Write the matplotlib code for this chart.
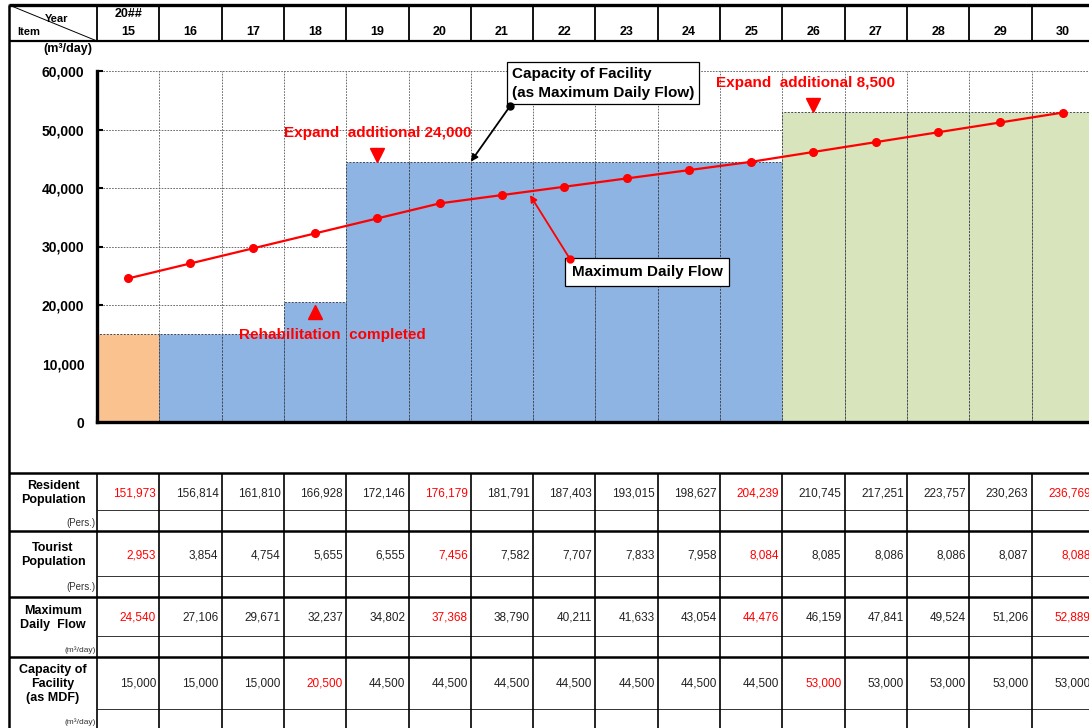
# Water demand forecast vs. treatment capacity, with yearly data table
import numpy as np
import matplotlib
matplotlib.use('Agg')
import matplotlib.pyplot as plt

plt.rcParams['font.family'] = ['Liberation Sans', 'DejaVu Sans']

# data
years = ['15', '16', '17', '18', '19', '20', '21', '22',
         '23', '24', '25', '26', '27', '28', '29', '30']
resident = [151973, 156814, 161810, 166928, 172146, 176179, 181791, 187403,
            193015, 198627, 204239, 210745, 217251, 223757, 230263, 236769]
tourist = [2953, 3854, 4754, 5655, 6555, 7456, 7582, 7707,
           7833, 7958, 8084, 8085, 8086, 8086, 8087, 8088]
max_flow = [24540, 27106, 29671, 32237, 34802, 37368, 38790, 40211,
            41633, 43054, 44476, 46159, 47841, 49524, 51206, 52889]
capacity = [15000, 15000, 15000, 20500, 44500, 44500, 44500, 44500,
            44500, 44500, 44500, 53000, 53000, 53000, 53000, 53000]
phase = ['existing'] + ['stage1'] * 10 + ['stage2'] * 5
milestones = [0, 5, 10, 15]        # highlighted columns in the demand rows
cap_changes = [3, 11]              # highlighted columns in the capacity row

phase_colors = {'existing': '#F9C28F', 'stage1': '#8DB4E2', 'stage2': '#D7E4BC'}

# layout (pixels)
W, H = 1089, 728
X0, CW = 97, 62.3          # first year column left edge, column width
Y_TOP, Y_ZERO = 71, 422    # plot top / baseline
XL = (9 - X0) / CW         # outer left border in column units
n = len(years)
idx = np.arange(n)

fig = plt.figure(figsize=(W / 100, H / 100), dpi=100)

# full-figure axes for the table grid: x in columns, y in pixels
tab = fig.add_axes([0, 0, 1, 1])
tab.set_xlim(-X0 / CW, (W - X0) / CW)
tab.set_ylim(H, 0)
tab.axis('off')

# chart axes sharing the same column scale
ax = fig.add_axes([X0 / W, (H - Y_ZERO) / H, n * CW / W, (Y_ZERO - Y_TOP) / H])
ax.set_xlim(0, n)
ax.set_ylim(0, 60000)
ax.patch.set_alpha(0)

# --- header row ---
tab.hlines(5, XL, n, color='black', lw=2.4)
tab.hlines(41, XL, n, color='black', lw=1.6)
tab.vlines(XL, 5, H, color='black', lw=1.8)
tab.vlines(np.arange(n + 1), 5, 41, color='black', lw=1.3)
tab.plot([XL, 0], [5, 41], color='black', lw=0.7)
tab.text((57 - X0) / CW, 19, 'Year', fontsize=8, fontweight='bold', ha='center', va='center')
tab.text((29 - X0) / CW, 32, 'Item', fontsize=8, fontweight='bold', ha='center', va='center')
tab.text(0.5, 14, '20##', fontsize=9, fontweight='bold', ha='center', va='center')
for i, yr in enumerate(years):
    tab.text(i + 0.5, 32, yr, fontsize=9, fontweight='bold', ha='center', va='center')
tab.text((68 - X0) / CW, 49, '(m³/day)', fontsize=9, fontweight='bold', ha='center', va='center')

# --- chart ---
ax.bar(idx, capacity, width=1, align='edge',
       color=[phase_colors[p] for p in phase],
       edgecolor='#404858', linewidth=0.7, linestyle=(0, (2, 1.5)), zorder=2)
ax.plot(idx + 0.5, max_flow, color='red', lw=1.6, marker='o', ms=5.5, zorder=4)

ax.set_xticks(np.arange(n + 1))
ax.set_xticklabels([])
ax.set_yticks(np.arange(0, 60001, 10000))
ax.set_yticklabels([f'{v:,}' for v in range(0, 60001, 10000)],
                   fontsize=10, fontweight='bold')
ax.tick_params(axis='both', direction='in', length=4, width=1.5, pad=9)
ax.grid(True, color='#555555', lw=0.6, linestyle=(0, (2, 1.5)), zorder=0)
ax.set_axisbelow(True)
for s in ['top', 'right']:
    ax.spines[s].set_visible(False)
for s in ['left', 'bottom']:
    ax.spines[s].set_linewidth(2.4)
    ax.spines[s].set_zorder(5)

red_txt = dict(color='red', fontsize=11, fontweight='bold', ha='center', va='center', zorder=6)
ax.text(4.5, 49400, 'Expand  additional 24,000', **red_txt)
ax.plot(4.5, 45600, marker='v', color='red', ms=10, zorder=6)
ax.text(3.78, 14900, 'Rehabilitation  completed', **red_txt)
ax.plot(3.5, 18800, marker='^', color='red', ms=10, zorder=6)
ax.text(11.38, 57950, 'Expand  additional 8,500', **red_txt, clip_on=False)
ax.plot(11.5, 54200, marker='v', color='red', ms=10, zorder=6)

box = dict(boxstyle='square,pad=0.3', fc='white', ec='black', lw=0.9)
ax.text(6.66, 57900, 'Capacity of Facility\n(as Maximum Daily Flow)',
        fontsize=11, fontweight='bold', ha='left', va='center',
        linespacing=1.45, bbox=box, zorder=7, clip_on=False)
ax.annotate('', xy=(6.0, 44500), xytext=(6.63, 54000),
            arrowprops=dict(arrowstyle='-|>', color='black', lw=1.3,
                            mutation_scale=10, shrinkA=0, shrinkB=0), zorder=8)
ax.plot(6.63, 54000, 'o', color='black', ms=5, zorder=8)

ax.text(7.62, 25700, 'Maximum Daily Flow', fontsize=11, fontweight='bold',
        ha='left', va='center', bbox=dict(boxstyle='square,pad=0.45', fc='white', ec='black', lw=0.9), zorder=7)
ax.annotate('', xy=(6.95, 38800), xytext=(7.59, 27900),
            arrowprops=dict(arrowstyle='-|>', color='red', lw=1.3,
                            mutation_scale=10, shrinkA=0, shrinkB=0), zorder=8)
ax.plot(7.59, 27900, 'o', color='red', ms=5, zorder=8)

# --- data table ---
thick_rows = [473, 531, 597, 657]
thin_rows = [510, 576, 636, 709]
tab.hlines(thick_rows, XL, n, color='black', lw=1.8)
tab.hlines(thin_rows, 0, n, color='#333333', lw=0.7)
tab.vlines(np.arange(n + 1), 473, H, color='black', lw=1.2)

row_labels = ['Resident\nPopulation', 'Tourist\nPopulation',
              'Maximum\nDaily  Flow', 'Capacity of\nFacility\n(as MDF)']
row_units = ['(Pers.)', '(Pers.)', '(m³/day)', '(m³/day)']
label_y = [493, 555, 618, 684]
unit_y = [523, 587, 650, 722]
value_y = [493, 556, 618, 684]
rows = [resident, tourist, max_flow, capacity]
red_cols = [milestones, milestones, milestones, cap_changes]
lab_x = (53 - X0) / CW
unit_x = (96 - X0) / CW
for r, vals in enumerate(rows):
    tab.text(lab_x, label_y[r], row_labels[r], fontsize=9, fontweight='bold',
             ha='center', va='center', linespacing=1.2)
    tab.text(unit_x, unit_y[r], row_units[r], fontsize=7 if r < 2 else 6,
             color='#333333', ha='right', va='center')
    for i, v in enumerate(vals):
        tab.text(i + 1 - 0.05, value_y[r], f'{v:,}', fontsize=8.5,
                 color='red' if i in red_cols[r] else '#222222',
                 ha='right', va='center')

fig.savefig('out.png', dpi=100)
